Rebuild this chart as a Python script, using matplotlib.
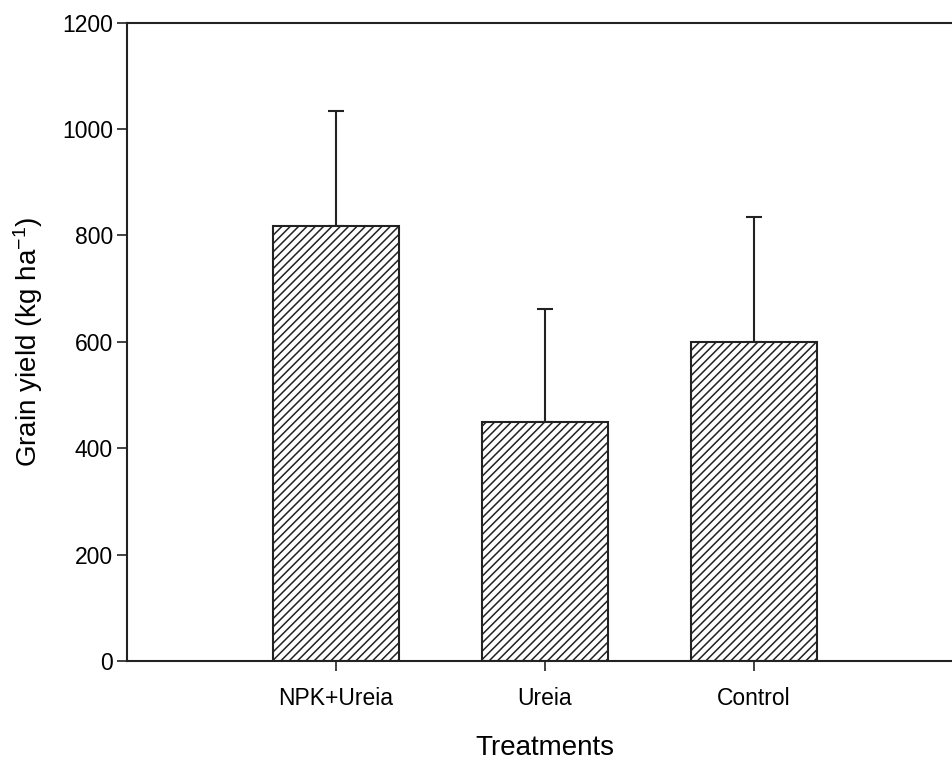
import matplotlib
matplotlib.use("Agg")
import matplotlib.pyplot as plt

categories = ["NPK+Ureia", "Ureia", "Control"]
yield_means = [817, 450, 600]
yield_errors = [217, 212, 235]
yticks = [0, 200, 400, 600, 800, 1000, 1200]

plt.rcParams['font.family'] = ['Liberation Sans', 'DejaVu Sans']
plt.rcParams['mathtext.fontset'] = 'custom'
plt.rcParams['mathtext.rm'] = 'Liberation Sans'
plt.rcParams['mathtext.it'] = 'Liberation Sans'
plt.rcParams['mathtext.default'] = 'regular'
plt.rcParams['hatch.linewidth'] = 1.1
plt.rcParams['hatch.color'] = '#222222'

fig = plt.figure(figsize=(9.53, 7.64), dpi=100)
ax = fig.add_axes([127/953, 1 - 661/764, (963 - 127)/953, (661 - 22.5)/764])

x = list(range(1, len(categories) + 1))
ax.bar(x, yield_means, width=0.6, facecolor='white', edgecolor='#222222',
       linewidth=1.5, hatch='////', zorder=2)
ax.errorbar(x, yield_means, yerr=[[0]*len(x), yield_errors], fmt='none',
            ecolor='#222222', elinewidth=1.5, capsize=6, capthick=1.5, zorder=1)

ax.set_xlim(0, 4)
ax.set_ylim(0, 1200)
ax.set_xticks(x)
ax.set_xticklabels(categories)
ax.set_yticks(yticks)
ax.tick_params(axis='both', direction='out', length=7, width=1.2, color='#222222',
               labelsize=16.5, pad=4)
ax.tick_params(axis='y', pad=3)
ax.tick_params(axis='x', pad=12)

for side in ['left', 'bottom', 'top']:
    ax.spines[side].set_linewidth(1.5)
    ax.spines[side].set_color('#222222')
ax.spines['right'].set_visible(False)

ax.set_ylabel('Grain yield (kg ha$^{-1}$)', fontsize=20, labelpad=12)
ax.set_xlabel('Treatments', fontsize=20, labelpad=18)

fig.savefig('out.png', dpi=100)
